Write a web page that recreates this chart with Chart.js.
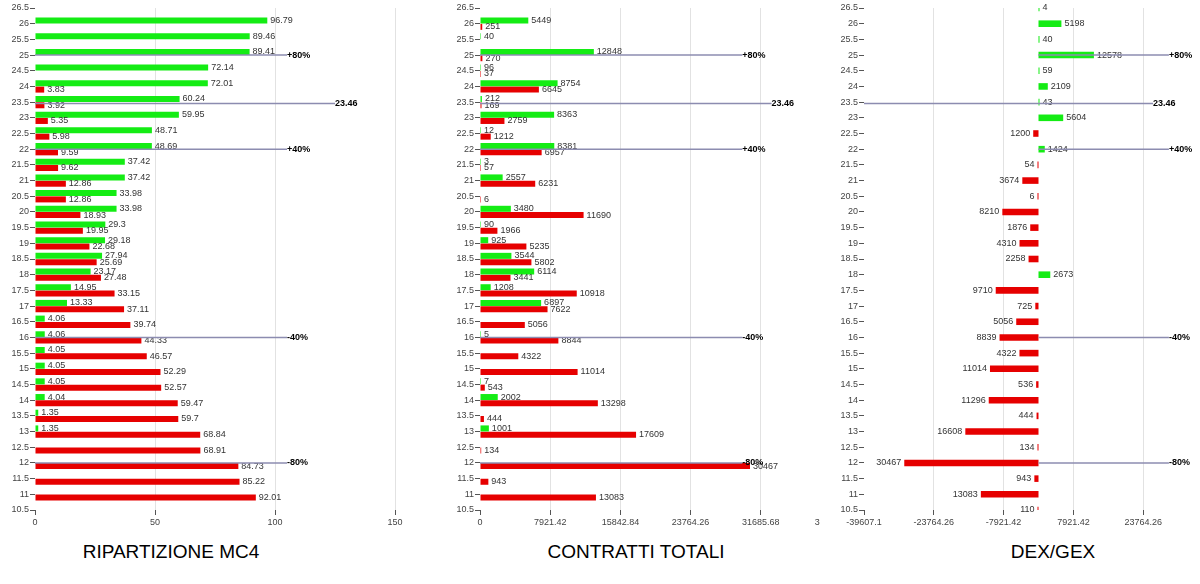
<!DOCTYPE html>
<html>
<head>
<meta charset="utf-8">
<script src="https://cdn.jsdelivr.net/npm/chart.js@4/dist/chart.umd.min.js"></script>
<style>
  html, body { margin: 0; padding: 0; background: #fff; width: 1200px; height: 584px; overflow: hidden; }
  .panel { position: absolute; top: 0; height: 540px; overflow: hidden; }
  .title { position: absolute; top: 542px; font: 19px "Liberation Sans", Arial, sans-serif; line-height: 19px;
           color: #000; transform: translateX(-50%); white-space: nowrap; }
</style>
</head>
<body>
<div class="panel" style="left:0;width:440px"><canvas id="mc4" width="440" height="540"></canvas></div>
<div class="panel" style="left:440px;width:380px"><canvas id="totali" width="420" height="540"></canvas></div>
<div class="panel" style="left:820px;width:377px"><canvas id="dexgex" width="420" height="540"></canvas></div>
<div class="title" style="left:171px">RIPARTIZIONE MC4</div>
<div class="title" style="left:636px">CONTRATTI TOTALI</div>
<div class="title" style="left:1053px">DEX/GEX</div>
<script>
// strikes, top to bottom
const strikes = ['26.5', '26', '25.5', '25', '24.5', '24', '23.5', '23', '22.5', '22', '21.5', '21', '20.5', '20',
  '19.5', '19', '18.5', '18', '17.5', '17', '16.5', '16', '15.5', '15', '14.5', '14', '13.5', '13', '12.5', '12',
  '11.5', '11', '10.5'];

// RIPARTIZIONE MC4 (green = call, red = put)
const mc4Call = [null, 96.79, 89.46, 89.41, 72.14, 72.01, 60.24, 59.95, 48.71, 48.69, 37.42, 37.42, 33.98, 33.98,
  29.3, 29.18, 27.94, 23.17, 14.95, 13.33, 4.06, 4.06, 4.05, 4.05, 4.05, 4.04, 1.35, 1.35, null, null,
  null, null, null];
const mc4Put = [null, null, null, null, null, 3.83, 3.92, 5.35, 5.98, 9.59, 9.62, 12.86, 12.86, 18.93,
  19.95, 22.68, 25.69, 27.48, 33.15, 37.11, 39.74, 44.33, 46.57, 52.29, 52.57, 59.47, 59.7, 68.84, 68.91, 84.73,
  85.22, 92.01, null];

// CONTRATTI TOTALI
const totCall = [null, 5449, 40, 12848, 96, 8754, 212, 8363, 12, 8381, 3, 2557, null, 3480,
  90, 925, 3544, 6114, 1208, 6897, null, 5, null, null, 7, 2002, null, 1001, null, null,
  null, null, null];
const totPut = [null, 251, null, 270, 37, 6645, 169, 2759, 1212, 6957, 57, 6231, 6, 11690,
  1966, 5235, 5802, 3441, 10918, 7622, 5056, 8844, 4322, 11014, 543, 13298, 444, 17609, 134, 30467,
  943, 13083, null];

// DEX/GEX
const dexGex = [4, 5198, 40, 12578, 59, 2109, 43, 5604, -1200, 1424, -54, -3674, -6, -8210,
  -1876, -4310, -2258, 2673, -9710, -725, -5056, -8839, -4322, -11014, -536, -11296, -444, -16608, -134, -30467,
  -943, -13083, -110];

// x tick values
const mc4Ticks = [0, 50, 100, 150];
const totTicks = [0, 7921.42, 15842.84, 23764.26, 31685.68, 39607.1];
const dexTicks = [-39607.1, -23764.26, -7921.42, 7921.42, 23764.26, 39607.1];

// reference levels
const refLevels = [25, 23.46, 22, 16, 12];
const refLabels = ['+80%', '23.46', '+40%', '-40%', '-80%'];
const mc4LineFrom = [0, 0, 0, 0, 0];
const mc4LineTo = [105, 125, 105, 105, 105];
const totLineFrom = [0, 0, 0, 0, 0];
const totLineTo = [29600, 32900, 29600, 29600, 29600];
const dexLineFrom = [0, -39607.1, 0, 0, 0];
const dexLineTo = [29600, 26000, 29600, 29600, 29600];

const GREEN = '#14ec14';
const RED = '#e60000';
const FONT = '"Liberation Sans Narrow", "Liberation Sans", Arial, sans-serif';

Chart.defaults.font.family = FONT;

// strike value -> (fractional) category index
function levelIndex(level) {
  const top = Number(strikes[0]);
  const step = top - Number(strikes[1]);
  return (top - level) / step;
}

const overlay = {
  id: 'overlay',
  afterDatasetsDraw(chart, args, opts) {
    const ctx = chart.ctx;
    const xs = chart.scales.x, ys = chart.scales.y;
    ctx.save();
    // value labels
    ctx.font = '9px ' + FONT;
    ctx.fillStyle = '#333';
    ctx.textBaseline = 'middle';
    chart.data.datasets.forEach((ds, i) => {
      chart.getDatasetMeta(i).data.forEach((bar, j) => {
        const v = ds.data[j];
        if (v === null || v === undefined) return;
        if (v < 0) {
          ctx.textAlign = 'right';
          ctx.fillText(String(-v), bar.x - 3, bar.y);
        } else {
          ctx.textAlign = 'left';
          ctx.fillText(String(v), bar.x + 3, bar.y);
        }
      });
    });
    // reference lines
    ctx.strokeStyle = '#8c8cb0';
    ctx.lineWidth = 1.5;
    ctx.fillStyle = '#000';
    ctx.font = 'bold 9px ' + FONT;
    ctx.textAlign = 'left';
    refLevels.forEach((lv, k) => {
      const y = ys.getPixelForValue(levelIndex(lv));
      const x0 = xs.getPixelForValue(opts.from[k]);
      const x1 = xs.getPixelForValue(opts.to[k]);
      ctx.beginPath();
      ctx.moveTo(x0, y);
      ctx.lineTo(x1, y);
      ctx.stroke();
      ctx.fillText(refLabels[k], x1, y);
    });
    ctx.restore();
  }
};

function makeOptions(xMin, xMax, ticks, yWidth, padRight, from, to) {
  return {
    indexAxis: 'y',
    responsive: false,
    animation: false,
    layout: { padding: { top: 8, right: padRight, bottom: 10, left: 0 } },
    plugins: {
      legend: { display: false },
      tooltip: { enabled: false },
      overlay: { from: from, to: to }
    },
    scales: {
      y: {
        type: 'category',
        offset: false,
        grid: { offset: false, drawOnChartArea: false, tickLength: 5, tickColor: '#555' },
        border: { display: false },
        ticks: { autoSkip: false, padding: 1, color: '#444', font: { size: 9 } },
        afterFit: s => { s.width = yWidth; }
      },
      x: {
        type: 'linear',
        min: xMin,
        max: xMax,
        grid: {
          color: c => c.index === 0 ? 'rgba(0,0,0,0)' : '#e2e2e2',
          tickLength: 5,
          tickColor: '#555'
        },
        border: { display: false },
        ticks: { autoSkip: false, maxRotation: 0, padding: 2, color: '#444', font: { size: 9 },
                 callback: v => String(v) },
        afterBuildTicks: s => { s.ticks = ticks.map(v => ({ value: v })); },
        afterFit: s => { s.height = 20; }
      }
    }
  };
}

function pairChart(id, calls, puts, xMin, xMax, ticks, yWidth, padRight, from, to) {
  const ctx = document.getElementById(id).getContext('2d');
  return new Chart(ctx, {
    type: 'bar',
    data: {
      labels: strikes,
      datasets: [
        { label: 'Call', data: calls, backgroundColor: GREEN, categoryPercentage: 0.8, barPercentage: 0.96, minBarLength: 1 },
        { label: 'Put', data: puts, backgroundColor: RED, categoryPercentage: 0.8, barPercentage: 0.96, minBarLength: 1 }
      ]
    },
    options: makeOptions(xMin, xMax, ticks, yWidth, padRight, from, to),
    plugins: [overlay]
  });
}

pairChart('mc4', mc4Call, mc4Put, 0, 150, mc4Ticks, 35, 45, mc4LineFrom, mc4LineTo);
pairChart('totali', totCall, totPut, 0, 39607.1, totTicks, 40, 29, totLineFrom, totLineTo);

new Chart(document.getElementById('dexgex').getContext('2d'), {
  type: 'bar',
  data: {
    labels: strikes,
    datasets: [{
      label: 'DEX/GEX',
      data: dexGex,
      backgroundColor: dexGex.map(v => v >= 0 ? GREEN : RED),
      categoryPercentage: 0.42,
      barPercentage: 1,
      minBarLength: 1
    }]
  },
  options: makeOptions(-39607.1, 39607.1, dexTicks, 44, 27, dexLineFrom, dexLineTo),
  plugins: [overlay]
});
</script>
</body>
</html>
